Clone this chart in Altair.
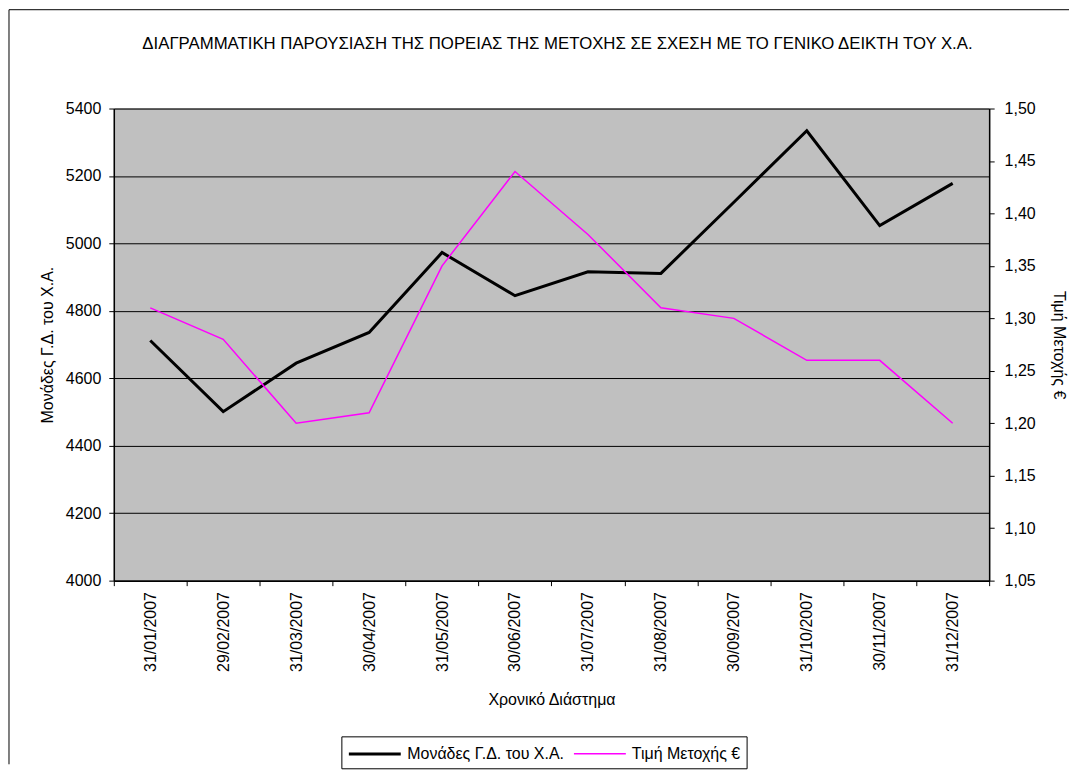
import altair as alt
import pandas as pd

dates = ["31/01/2007", "29/02/2007", "31/03/2007", "30/04/2007", "31/05/2007", "30/06/2007",
         "31/07/2007", "31/08/2007", "30/09/2007", "31/10/2007", "30/11/2007", "31/12/2007"]
index_points = [4712, 4501, 4645, 4736, 4973, 4845, 4916, 4911, 5122, 5334, 5053, 5178]
share_price = [1.31, 1.28, 1.20, 1.21, 1.35, 1.44, 1.38, 1.31, 1.30, 1.26, 1.26, 1.20]

s1 = "Μονάδες Γ.Δ. του Χ.Α."
s2 = "Τιμή Μετοχής €"
title_text = "ΔΙΑΓΡΑΜΜΑΤΙΚΗ ΠΑΡΟΥΣΙΑΣΗ ΤΗΣ ΠΟΡΕΙΑΣ ΤΗΣ ΜΕΤΟΧΗΣ ΣΕ ΣΧΕΣΗ ΜΕ ΤΟ ΓΕΝΙΚΟ ΔΕΙΚΤΗ ΤΟΥ Χ.Α."

left_ticks = [4000, 4200, 4400, 4600, 4800, 5000, 5200, 5400]
right_ticks = [1.05, 1.10, 1.15, 1.20, 1.25, 1.30, 1.35, 1.40, 1.45, 1.50]

df1 = pd.DataFrame({"date": dates, "value": index_points, "series": s1})
df2 = pd.DataFrame({"date": dates, "value": share_price, "series": s2})

W, H = 877, 473
FONT = "Liberation Sans"

xenc = alt.X("date:N", sort=dates, title="Χρονικό Διάστημα", bandPosition=0.5,
             scale=alt.Scale(type="band", paddingInner=0, paddingOuter=0),
             axis=alt.Axis(labelAngle=270, tickBand="extent", labelPadding=6,
                           titlePadding=20, domainColor="black", tickColor="black"))

color = alt.Color("series:N", scale=alt.Scale(domain=[s1, s2], range=["#000000", "#FF00FF"]),
                  legend=alt.Legend(title=None, orient="none", legendX=228, legendY=629,
                                    direction="horizontal", symbolType="M-1,0H4.2", symbolSize=400,
                                    strokeColor="black", fillColor="white", padding=6,
                                    labelFontSize=16, labelFont=FONT, columnPadding=6,
                                    labelOffset=37, labelColor="black"))
swidth = alt.StrokeWidth("series:N", scale=alt.Scale(domain=[s1, s2], range=[3, 1.5]),
                         legend=None)

line1 = alt.Chart(df1).mark_line().encode(
    x=xenc,
    y=alt.Y("value:Q", title=s1,
            scale=alt.Scale(domain=[4000, 5400], nice=False, zero=False),
            axis=alt.Axis(values=left_ticks, grid=True, gridColor="black", gridOpacity=1,
                          format="d", labelPadding=8,
                          orient="left", titlePadding=10, domainColor="black", tickColor="black")),
    color=color,
    strokeWidth=swidth,
)

line2 = alt.Chart(df2).mark_line().encode(
    x=xenc,
    y=alt.Y("value:Q", title="Τιμή Μετοχής €",
            scale=alt.Scale(domain=[1.05, 1.50], nice=False, zero=False),
            axis=alt.Axis(values=right_ticks, grid=False, orient="right", titlePadding=15,
                          labelPadding=10,
                          labelExpr="replace(format(datum.value, '.2f'), '.', ',')",
                          domainColor="black", tickColor="black")),
    color=color,
    strokeWidth=swidth,
)

deco = pd.DataFrame({"t": [title_text]})
title_mark = alt.Chart(deco).mark_text(fontSize=16.8, font=FONT, color="black",
                                       align="center", baseline="middle").encode(
    x=alt.value(W / 2 + 6), y=alt.value(-65), text="t:N")
left_border = alt.Chart(deco).mark_rule(color="black", strokeWidth=1).encode(
    x=alt.value(-105), y=alt.value(-99), y2=alt.value(657))
top_border = alt.Chart(deco).mark_rule(color="black", strokeWidth=1).encode(
    x=alt.value(-105), x2=alt.value(957), y=alt.value(-99))

chart = alt.layer(left_border, top_border, title_mark, line1, line2).resolve_scale(
    y="independent"
).properties(
    width=W, height=H, padding=0, background="white"
).configure_view(
    fill="#C0C0C0", stroke="#808080", strokeWidth=1
).configure_axis(
    labelFont=FONT, titleFont=FONT, labelFontSize=16, titleFontSize=16,
    titleFontWeight="normal", labelColor="black", titleColor="black",
    tickSize=5, domainWidth=1.5
)

chart.save("out.html", embed_options={"renderer": "svg", "actions": False})
